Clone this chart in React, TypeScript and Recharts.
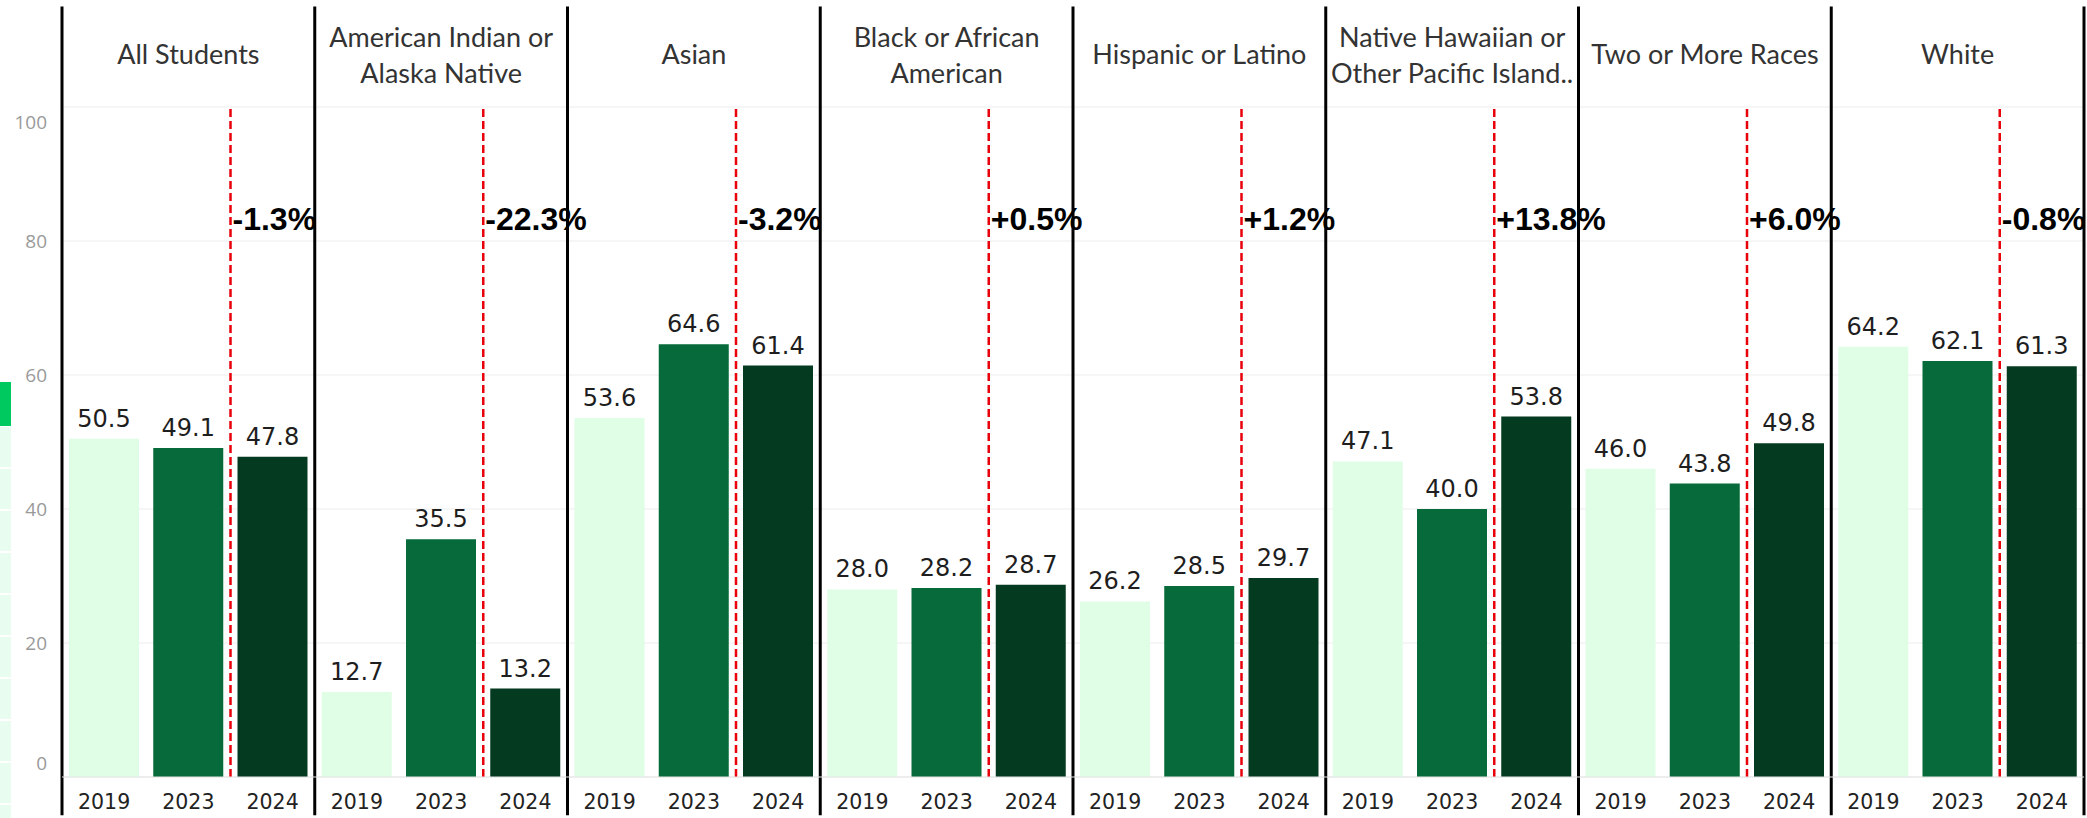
import React from 'react';
import { BarChart, Bar, XAxis, YAxis, CartesianGrid, ReferenceLine, LabelList, Cell } from 'recharts';

// ---- data ----
const groupLabels: string[][] = [
  ['All Students'],
  ['American Indian or', 'Alaska Native'],
  ['Asian'],
  ['Black or African', 'American'],
  ['Hispanic or Latino'],
  ['Native Hawaiian or', 'Other Pacific Island..'],
  ['Two or More Races'],
  ['White'],
];
const years = ['2019', '2023', '2024'];
const values2019 = [50.5, 12.7, 53.6, 28.0, 26.2, 47.1, 46.0, 64.2];
const values2023 = [49.1, 35.5, 64.6, 28.2, 28.5, 40.0, 43.8, 62.1];
const values2024 = [47.8, 13.2, 61.4, 28.7, 29.7, 53.8, 49.8, 61.3];
const changeLabels = ['-1.3%', '-22.3%', '-3.2%', '+0.5%', '+1.2%', '+13.8%', '+6.0%', '-0.8%'];
const yTicks = [0, 20, 40, 60, 80, 100];

// ---- styles ----
const yearColors = ['#e0fde6', '#066a3a', '#043a20'];
const N = groupLabels.length;
const SLOTS = N * 3;

const data = groupLabels.flatMap((_, g) =>
  [values2019[g], values2023[g], values2024[g]].map((v, i) => ({ x: g * 3 + i + 0.5, value: v, yearIdx: i }))
);
const bottomTicks = data.map((d) => d.x);
const topTicks = groupLabels.map((_, g) => g * 3 + 1.5);
const borderPositions = Array.from({ length: N + 1 }, (_, g) => g * 3);

const HeaderTick = (props: any) => {
  const { x, y, payload } = props;
  const g = Math.round((payload.value - 1.5) / 3);
  const lines = groupLabels[g] || [];
  const baselines = lines.length === 1 ? [y - 43] : [y - 60, y - 24];
  return (
    <g>
      {lines.map((l, i) => (
        <text key={i} x={x} y={baselines[i]} textAnchor="middle" fontFamily="Lato" fontSize={27} fill="#333">
          {l}
        </text>
      ))}
    </g>
  );
};

const YTick = (props: any) => {
  const { x, y, payload } = props;
  const v = payload.value;
  const dy = v === 100 ? 15 : v === 0 ? -14 : 0;
  return (
    <text x={x} y={y + dy} textAnchor="end" dominantBaseline="central" fontFamily="Open Sans" fontSize={19} fill="#9a9a9a">
      {v}
    </text>
  );
};

export default function App() {
  return (
    <div style={{ position: 'absolute', left: 0, top: 0, width: 2087, height: 818, background: '#fff', overflow: 'hidden' }}>
      {/* left legend strip remnant */}
      <div style={{ position: 'absolute', left: 0, top: 382, width: 11, height: 44, background: '#00c95f' }} />
      <div
        style={{
          position: 'absolute',
          left: 0,
          top: 427,
          width: 11,
          height: 391,
          background: 'repeating-linear-gradient(#e9fcf0 0px, #e9fcf0 40px, #ffffff 40px, #ffffff 42px)',
        }}
      />
      <BarChart width={2087} height={818} data={data} margin={{ top: 7, right: 3, left: 0, bottom: 0 }}>
        <CartesianGrid vertical={false} stroke="#ededed" xAxisId="bottom" />
        <XAxis
          xAxisId="bottom"
          dataKey="x"
          type="number"
          domain={[0, SLOTS]}
          allowDataOverflow
          ticks={bottomTicks}
          interval={0}
          tickFormatter={(v: number) => years[Math.floor(v) % 3]}
          height={41}
          axisLine={{ stroke: '#e4e4e4' }}
          tickLine={false}
          tickMargin={11}
          tick={{ fontSize: 20.5, fill: '#222', fontFamily: 'DejaVu Sans' }}
        />
        <XAxis
          xAxisId="top"
          dataKey="x"
          orientation="top"
          type="number"
          domain={[0, SLOTS]}
          allowDataOverflow
          ticks={topTicks}
          interval={0}
          height={100}
          axisLine={false}
          tickLine={false}
          tickSize={0}
          tickMargin={0}
          tick={<HeaderTick />}
        />
        <YAxis domain={[0, 100]} ticks={yTicks} width={62} axisLine={false} tickLine={false} tickMargin={9} tick={<YTick />} />
        <Bar dataKey="value" xAxisId="bottom" barSize={70} isAnimationActive={false}>
          {data.map((d, i) => (
            <Cell key={i} fill={yearColors[d.yearIdx]} />
          ))}
          <LabelList
            dataKey="value"
            position="top"
            offset={12}
            formatter={(v: any) => Number(v).toFixed(1)}
            style={{ fontSize: 24, fill: '#1e1e1e', fontFamily: 'DejaVu Sans' }}
          />
        </Bar>
        {changeLabels.map((c, g) => (
          <ReferenceLine
            key={'r' + g}
            xAxisId="bottom"
            x={g * 3 + 2}
            stroke="#e8000b"
            strokeWidth={2.5}
            strokeDasharray="8 4"
            label={(p: any) => {
              const vb = p.viewBox || {};
              return (
                <text
                  x={(vb.x || 0) + 2}
                  y={(vb.y || 0) + 123}
                  fontFamily="Liberation Sans"
                  fontWeight="bold"
                  fontSize={32}
                  fill="#000"
                >
                  {c}
                </text>
              );
            }}
          />
        ))}
        {borderPositions.map((b, g) => (
          <ReferenceLine
            key={'b' + g}
            xAxisId="bottom"
            segment={[
              { x: b, y: -5.7 },
              { x: b, y: 115 },
            ]}
            stroke="#000"
            strokeWidth={3}
            ifOverflow="visible"
          />
        ))}
      </BarChart>
    </div>
  );
}
